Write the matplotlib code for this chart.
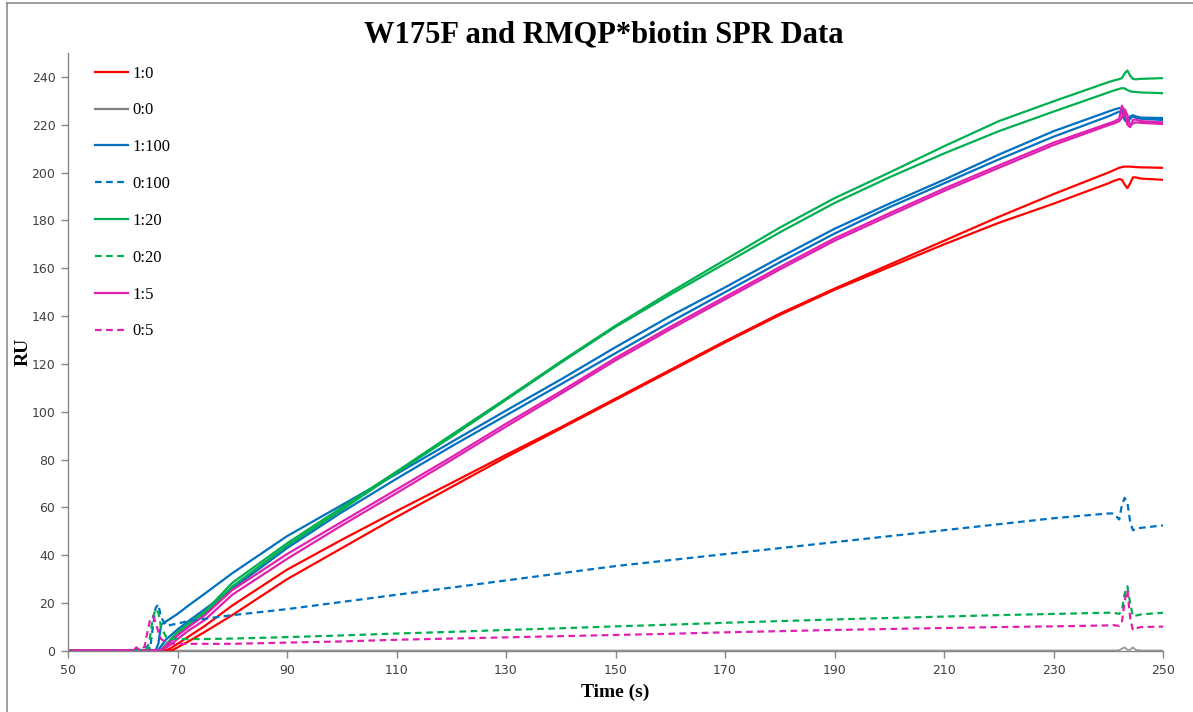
import matplotlib
matplotlib.use("Agg")
import matplotlib.pyplot as plt
from matplotlib.lines import Line2D

# Sampling times (s) shared by every sensorgram
time_s = [50, 55, 60, 62, 62.5, 63, 63.5, 64, 64.5, 65, 65.5, 66, 66.5, 67, 68, 69, 70, 72, 75, 80,
          90, 100, 110, 120, 130, 140, 150, 160, 170, 180, 190, 200, 210, 220, 230, 240,
          241, 242, 242.5, 243, 243.5, 244, 244.5, 245, 246, 250]

# 1:0 (two replicates)
ru_1_0_a = [0.3, 0.3, 0.3, 0.3, 0.3, 0.3, 0.3, 0.3, 0.3, 0.3, 0.3, 0.3, 0.3, 0.3, 0.3, 1.5, 3, 6, 10.5, 19,
            34, 46.5, 58.5, 70.2, 82, 93.5, 105.5, 117.5, 129.5, 141, 151.5, 161.5, 171.5, 181.5, 191, 200,
            201, 202, 202.3, 202.5, 202.5, 202.5, 202.4, 202.3, 202.2, 202]
ru_1_0_b = [0.3, 0.3, 0.3, 0.3, 0.3, 0.3, 0.3, 0.3, 0.3, 0.3, 0.3, 0.3, 0.3, 0.3, 0.3, 0.3, 1.5, 4, 8, 15,
            30, 43, 56, 68.5, 81, 93, 105, 117, 129, 140.5, 151, 160.5, 170, 179, 187, 195.5,
            196.5, 197.3, 197, 195, 193.5, 195.5, 198, 198, 197.5, 197]

# 0:0
ru_0_0 = [0.2, 0.2, 0.2, 0.2, 0.2, 0.2, 0.2, 0.2, 0.2, 0.2, 0.2, 0.2, 0.2, 0.2, 0.2, 0.2, 0.2, 0.2, 0.2, 0.2,
          0.2, 0.2, 0.2, 0.2, 0.2, 0.2, 0.2, 0.2, 0.2, 0.2, 0.2, 0.2, 0.2, 0.2, 0.2, 0.2,
          0.2, 0.3, 1.0, 1.5, 0.5, 0.5, 1.5, 0.5, 0.2, 0.2]

# 1:100 (two replicates) and 0:100
ru_1_100_a = [0.3, 0.3, 0.3, 0.3, 0.3, 0.3, 0.3, 0.3, 0.3, 0.3, 0.3, 0.3, 3, 11, 12.5, 14, 15.5, 19, 24, 32.5,
              48, 61, 74, 87.3, 100.5, 113.5, 127, 140, 152, 164.5, 176.5, 187, 197, 207.5, 217.3, 225.5,
              226.3, 227, 226.5, 223, 221.5, 223.5, 224, 223.5, 223, 222.8]
ru_1_100_b = [0.3, 0.3, 0.3, 0.3, 0.3, 0.3, 0.3, 0.3, 0.3, 0.3, 0.3, 0.3, 0.5, 2, 5, 7, 9, 12.5, 17.5, 26,
              43, 58, 72, 85.5, 98.5, 111.5, 124.5, 137.5, 150, 162.5, 174.5, 185.5, 195.5, 205.5, 215, 223.5,
              224.5, 225.5, 225, 222, 221, 222.5, 223.5, 223, 222.5, 222]
ru_0_100 = [0.3, 0.3, 0.3, 0.3, 0.3, 0.5, 0.5, 1, 2, 1, 10, 18, 19.5, 14, 10.5, 11, 11.5, 12.5, 13.5, 15,
            17.5, 20.5, 23.5, 26.5, 29.5, 32.5, 35.5, 38, 40.5, 43, 45.5, 48, 50.5, 53, 55.5, 57.5,
            57.5, 55, 61, 64, 62, 54, 50.5, 51, 51.5, 52.5]

# 1:20 (two replicates) and 0:20
ru_1_20_a = [0.3, 0.3, 0.3, 0.3, 0.3, 0.3, 0.3, 0.3, 0.3, 0.3, 0.3, 0.3, 0.3, 0.5, 3, 5.5, 8, 11.5, 16.5, 28.5,
             45, 60, 75, 90.3, 105.5, 121, 136, 150, 163.5, 177, 189.3, 200, 211, 221.5, 229.8, 237.8,
             238.5, 239.1, 239.5, 241.5, 242.7, 240.5, 239.2, 239, 239.2, 239.5]
ru_1_20_b = [0.3, 0.3, 0.3, 0.3, 0.3, 0.3, 0.3, 0.3, 0.3, 0.3, 0.3, 0.3, 0.3, 0.3, 2, 4.5, 7, 10.5, 15.5, 27,
             44, 59, 74.5, 89.5, 105, 120.5, 135.5, 149, 162, 175, 187.3, 198, 208, 217.3, 225.5, 233.5,
             234.3, 235, 235.3, 235.2, 234.5, 234, 233.8, 233.7, 233.5, 233.2]
ru_0_20 = [0.3, 0.3, 0.3, 0.3, 0.3, 0.3, 0.3, 0.5, 1, 6, 14, 17.5, 16, 10, 5.5, 5, 5, 5, 5, 5.2,
           5.8, 6.5, 7.3, 8, 8.8, 9.5, 10.3, 11, 11.8, 12.5, 13.2, 13.8, 14.4, 15, 15.5, 16,
           16, 15.5, 17, 24, 27, 20, 14.5, 14.8, 15.3, 16]

# 1:5 (two replicates) and 0:5
ru_1_5_a = [0.3, 0.3, 0.3, 0.3, 0.3, 0.3, 0.3, 0.3, 0.3, 0.3, 0.3, 0.3, 0.3, 0.5, 2.5, 4.5, 6.5, 10, 15, 25.5,
            40.5, 54, 67.5, 81, 95, 108.5, 122.5, 135.5, 148, 160.5, 172.5, 183, 193.3, 203, 212.5, 220.5,
            221.3, 222.5, 228, 225, 220, 219, 222, 222.2, 221.5, 221]
ru_1_5_b = [0.3, 0.3, 0.3, 0.3, 0.3, 0.3, 0.3, 0.3, 0.3, 0.3, 0.3, 0.3, 0.3, 0.3, 1.5, 3, 5, 8.5, 13, 23.5,
            38.5, 52.5, 66, 79.8, 93.8, 107.5, 121.5, 134.5, 147, 159.5, 171.5, 182, 192.3, 202, 211.5, 219.8,
            220.5, 221.5, 223, 226.5, 224, 219.5, 220.5, 221, 220.8, 220.3]
ru_0_5 = [0.3, 0.3, 0.3, 0.5, 1.5, 0.5, 0.5, 2, 8, 13, 14.5, 12, 8, 5, 3.5, 3, 3, 3, 3, 3,
          3.5, 4, 4.7, 5.2, 5.7, 6.2, 6.7, 7.2, 7.8, 8.3, 8.8, 9.2, 9.6, 10, 10.3, 10.7,
          10.8, 10.5, 12, 21, 25.5, 14, 8.7, 9.5, 10, 10.2]

legend_labels = ["1:0", "0:0", "1:100", "0:100", "1:20", "0:20", "1:5", "0:5"]

RED = "#FF0000"
GRAY = "#808080"
BLUE = "#0070C0"
GREEN = "#00B050"
MAGENTA = "#E020B0"

fig = plt.figure(figsize=(11.93, 7.12), dpi=100)
ax = fig.add_axes([68 / 1193, 61 / 712, 1095 / 1193, 598 / 712])

lw = 1.6
dash = (3.0, 2.0)

# draw order: replicate traces, then buffer-only (0:x) traces
ax.plot(time_s, ru_0_0, color=GRAY, lw=1.3, alpha=0.8)
ax.plot(time_s, ru_1_0_a, color=RED, lw=lw)
ax.plot(time_s, ru_1_0_b, color=RED, lw=lw)
ax.plot(time_s, ru_1_100_a, color=BLUE, lw=lw)
ax.plot(time_s, ru_1_100_b, color=BLUE, lw=lw)
ax.plot(time_s, ru_1_20_a, color=GREEN, lw=lw)
ax.plot(time_s, ru_1_20_b, color=GREEN, lw=lw)
ax.plot(time_s, ru_1_5_a, color=MAGENTA, lw=lw)
ax.plot(time_s, ru_1_5_b, color=MAGENTA, lw=lw)
ax.plot(time_s, ru_0_100, color=BLUE, lw=lw, dashes=dash)
ax.plot(time_s, ru_0_20, color=GREEN, lw=lw, dashes=dash)
ax.plot(time_s, ru_0_5, color=MAGENTA, lw=lw, dashes=dash)

ax.set_xlim(50, 250)
ax.set_ylim(0, 250)
ax.set_xticks(list(range(50, 251, 20)))
ax.set_yticks(list(range(0, 241, 20)))

for side in ("top", "right"):
    ax.spines[side].set_visible(False)
for side in ("left", "bottom"):
    ax.spines[side].set_color("#868686")
    ax.spines[side].set_linewidth(1.0)
ax.tick_params(axis="both", direction="out", length=5, width=1.0, color="#868686",
               labelsize=9, labelcolor="#404040", pad=4)
for lab in ax.get_xticklabels() + ax.get_yticklabels():
    lab.set_family("DejaVu Sans")

serif = ["Liberation Serif", "DejaVu Serif"]
ax.set_xlabel("Time (s)", fontsize=14, fontweight="bold", family=serif, labelpad=5)
ax.set_ylabel("RU", fontsize=14, fontweight="bold", family=serif, labelpad=0)
fig.text(0.5059, 0.951, "W175F and RMQP*biotin SPR Data", ha="center", va="center",
         fontsize=22, fontweight="bold", family=serif)

handles = [
    Line2D([], [], color=RED, lw=lw),
    Line2D([], [], color=GRAY, lw=lw),
    Line2D([], [], color=BLUE, lw=lw),
    Line2D([], [], color=BLUE, lw=lw, dashes=dash),
    Line2D([], [], color=GREEN, lw=lw),
    Line2D([], [], color=GREEN, lw=lw, dashes=dash),
    Line2D([], [], color=MAGENTA, lw=lw),
    Line2D([], [], color=MAGENTA, lw=lw, dashes=dash),
]
leg = ax.legend(handles, legend_labels, loc="upper left", bbox_to_anchor=(0.0113, 1.004),
                frameon=False, handlelength=1.95, handletextpad=0.3, labelspacing=1.25,
                prop={"family": serif, "size": 12})

# outer chart-area border (left and top edges)
fig.add_artist(Line2D([7 / 1193, 7 / 1193], [0, 1 - 3 / 712], transform=fig.transFigure,
                      color="#8c8c8c", lw=1.2))
fig.add_artist(Line2D([7 / 1193, 1], [1 - 3 / 712, 1 - 3 / 712], transform=fig.transFigure,
                      color="#8c8c8c", lw=1.2))

fig.savefig("out.png", dpi=100, facecolor="white")
